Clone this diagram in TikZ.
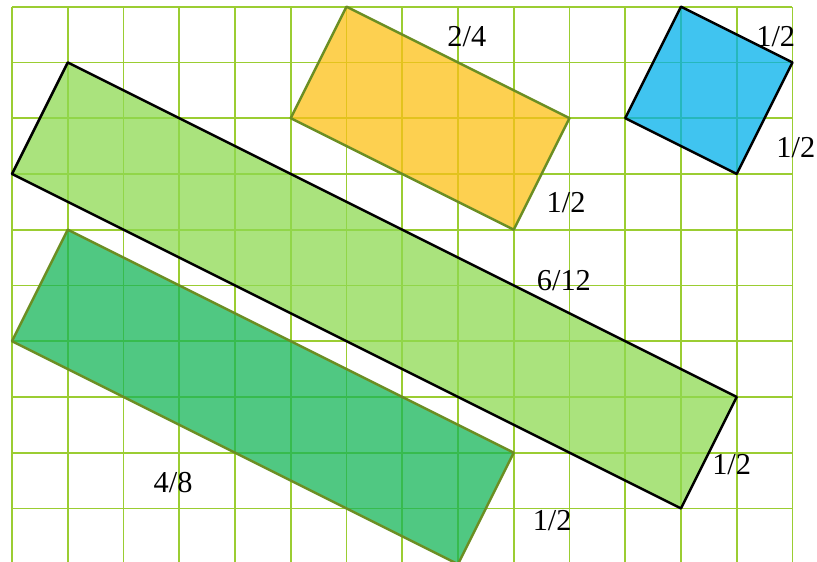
\documentclass[tikz,border=0pt]{standalone}
\usepackage{fontspec}
\setmainfont{Liberation Serif}
\definecolor{gridgreen}{RGB}{155,205,50}
\definecolor{stripgreen}{RGB}{142,218,82}
\definecolor{darkstrip}{RGB}{22,182,88}
\definecolor{orangebox}{RGB}{252,192,22}
\definecolor{bluebox}{RGB}{0,176,235}
\definecolor{edgeolive}{RGB}{107,142,35}
\begin{document}
\begin{tikzpicture}[
            gridline/.style={draw=gridgreen, line width=0.9pt},
            piece/.style={fill opacity=0.75, line width=1.3pt, line join=round},
            lbl/.style={font=\fontsize{15.5}{18}\selectfont, inner sep=0pt}]

            \useasboundingbox (-0.215,0.12) rectangle (14.44,-9.96);

            % grid
            \foreach \i in {0,...,14}
                \draw[gridline] (\i,0) -- (\i,-9.96);
            \foreach \j in {0,...,9}
                \draw[gridline] (0,-\j) -- (14,-\j);

            % corners
            \coordinate (A1) at (1,-1);
            \coordinate (A2) at (0,-3);
            \coordinate (A3) at (12,-9);
            \coordinate (A4) at (13,-7);
            \coordinate (B1) at (1,-4);
            \coordinate (B2) at (0,-6);
            \coordinate (B3) at (8,-10);
            \coordinate (B4) at (9,-8);
            \coordinate (C1) at (6,0);
            \coordinate (C2) at (5,-2);
            \coordinate (C3) at (9,-4);
            \coordinate (C4) at (10,-2);
            \coordinate (D1) at (12,0);
            \coordinate (D2) at (11,-2);
            \coordinate (D3) at (13,-3);
            \coordinate (D4) at (14,-1);

            \draw[piece, fill=stripgreen, draw=black] (A1) -- (A2) -- (A3) -- (A4) -- cycle;
            \draw[piece, fill=darkstrip, draw=edgeolive] (B1) -- (B2) -- (B3) -- (B4) -- cycle;
            \draw[piece, fill=orangebox, draw=edgeolive] (C1) -- (C2) -- (C3) -- (C4) -- cycle;
            \draw[piece, fill=bluebox, draw=black] (D1) -- (D2) -- (D3) -- (D4) -- cycle;

            % labels
            \node[lbl] (Along) at (9.90,-4.92) {6/12};
            \node[lbl] (Ashort) at (12.91,-8.22) {1/2};
            \node[lbl] (Blong) at (2.89,-8.53) {4/8};
            \node[lbl] (Bshort) at (9.69,-9.22) {1/2};
            \node[lbl] (Clong) at (8.16,-0.54) {2/4};
            \node[lbl] (Cshort) at (9.94,-3.52) {1/2};
            \node[lbl] (Dtop) at (13.70,-0.53) {1/2};
            \node[lbl] (Dright) at (14.06,-2.53) {1/2};

        \end{tikzpicture}
\end{document}
